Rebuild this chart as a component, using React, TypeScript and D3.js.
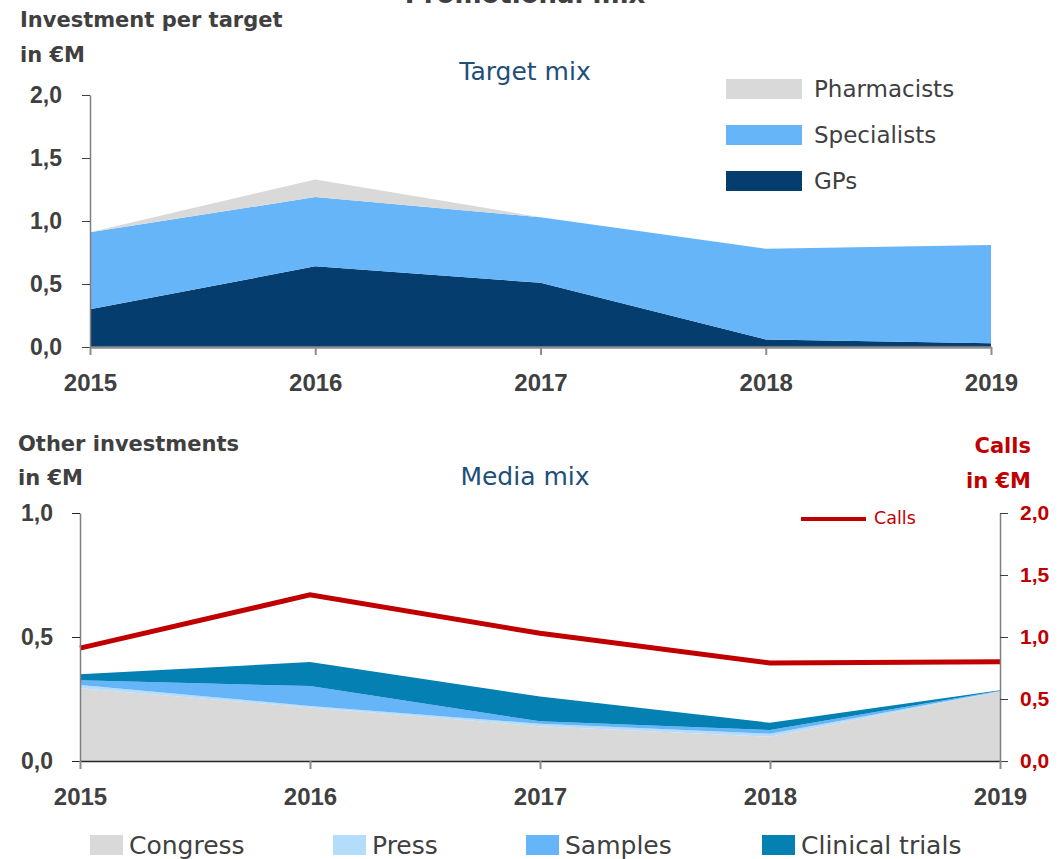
import React, { useEffect, useRef } from 'react';
import * as d3 from 'd3';

const width = 1062;
const height = 859;
const FONT = "'DejaVu Sans', Verdana, sans-serif";
const NUM_FONT = "'Liberation Sans', Arial, sans-serif";
const GREY_TEXT = '#404040';

// x categories
const years = [2015, 2016, 2017, 2018, 2019];

// Target mix – investment per target in €M
const gps = [0.30, 0.64, 0.51, 0.06, 0.03];
const specialists = [0.61, 0.55, 0.52, 0.72, 0.78];
const pharmacists = [0.0, 0.14, 0.0, 0.0, 0.0];

// Media mix – other investments in €M
const congress = [0.293, 0.216, 0.14, 0.098, 0.28];
const press = [0.013, 0.006, 0.01, 0.012, 0.001];
const samples = [0.02, 0.08, 0.01, 0.015, 0.002];
const clinicalTrials = [0.024, 0.097, 0.10, 0.029, 0.002];

// Calls in €M (right axis)
const calls = [0.91, 1.34, 1.03, 0.79, 0.80];

const targetTicks = [0, 0.5, 1, 1.5, 2];
const mediaTicks = [0, 0.5, 1];
const callsTicks = [0, 0.5, 1, 1.5, 2];

const targetKeys = ['GPs', 'Specialists', 'Pharmacists'];
const mediaKeys = ['Congress', 'Press', 'Samples', 'Clinical trials'];

const colors: Record<string, string> = {
  GPs: '#043d6e',
  Specialists: '#66b5f8',
  Pharmacists: '#d9d9d9',
  Congress: '#d9d9d9',
  Press: '#b4ddfb',
  Samples: '#66b5f8',
  'Clinical trials': '#0580b3',
  Calls: '#c00000',
};

const targetRows = years.map((year, i) => ({
  year,
  GPs: gps[i],
  Specialists: specialists[i],
  Pharmacists: pharmacists[i],
}));

const mediaRows = years.map((year, i) => ({
  year,
  Congress: congress[i],
  Press: press[i],
  Samples: samples[i],
  'Clinical trials': clinicalTrials[i],
}));

// plot boxes
const top = { left: 90, right: 991, top: 95, bottom: 347 };
const bot = { left: 80, right: 1000, top: 513, bottom: 761 };

const fmt = (d: number) => d.toFixed(1).replace('.', ',');

const xTop = d3.scalePoint<number>().domain(years).range([top.left, top.right]);
const yTop = d3.scaleLinear().domain([0, 2]).range([top.bottom, top.top]);
const xBot = d3.scalePoint<number>().domain(years).range([bot.left, bot.right]);
const yBot = d3.scaleLinear().domain([0, 1]).range([bot.bottom, bot.top]);
const yCalls = d3.scaleLinear().domain([0, 2]).range([bot.bottom, bot.top]);

function styleAxis(node: any, axis: any, o: any) {
  const g = d3.select(node);
  g.call(axis);
  g.attr('font-family', NUM_FONT).attr('font-size', o.fontSize).attr('font-weight', 'bold');
  g.select('.domain').attr('stroke', o.domain).attr('stroke-width', o.domainWidth);
  g.selectAll('.tick line').attr('stroke', o.tick).attr('stroke-width', o.tickWidth);
  g.selectAll('.tick text').attr('fill', o.text);
}

export default function App() {
  const topY = useRef(null);
  const topX = useRef(null);
  const botY = useRef(null);
  const botX = useRef(null);
  const botR = useRef(null);

  useEffect(() => {
    styleAxis(topY.current,
      d3.axisLeft(yTop).tickValues(targetTicks).tickSize(8).tickSizeOuter(0).tickPadding(20).tickFormat(fmt as any),
      { fontSize: 23, domain: '#7f7f7f', domainWidth: 1.5, tick: '#404040', tickWidth: 1, text: GREY_TEXT });
    styleAxis(topX.current,
      d3.axisBottom(xTop).tickSize(8).tickSizeOuter(0).tickPadding(19),
      { fontSize: 24, domain: '#8c8c8c', domainWidth: 2.5, tick: '#8c8c8c', tickWidth: 2, text: GREY_TEXT });
    styleAxis(botY.current,
      d3.axisLeft(yBot).tickValues(mediaTicks).tickSize(8).tickSizeOuter(0).tickPadding(19).tickFormat(fmt as any),
      { fontSize: 23, domain: '#7f7f7f', domainWidth: 1.5, tick: '#262626', tickWidth: 1, text: GREY_TEXT });
    styleAxis(botX.current,
      d3.axisBottom(xBot).tickSize(8).tickSizeOuter(0).tickPadding(19),
      { fontSize: 24, domain: '#262626', domainWidth: 1.5, tick: '#8c8c8c', tickWidth: 2, text: GREY_TEXT });
    styleAxis(botR.current,
      d3.axisRight(yCalls).tickValues(callsTicks).tickSize(8).tickSizeOuter(0).tickPadding(12).tickFormat(fmt as any),
      { fontSize: 21, domain: '#7f7f7f', domainWidth: 1.5, tick: '#404040', tickWidth: 1, text: colors.Calls });
  }, []);

  const targetStack = d3.stack<any>().keys(targetKeys)(targetRows);
  const mediaStack = d3.stack<any>().keys(mediaKeys)(mediaRows);

  const areaTop = d3.area<any>()
    .x(d => xTop(d.data.year) as number)
    .y0(d => yTop(d[0]))
    .y1(d => yTop(d[1]));

  const areaBot = d3.area<any>()
    .x(d => xBot(d.data.year) as number)
    .y0(d => yBot(d[0]))
    .y1(d => yBot(d[1]));

  const callsLine = d3.line<number>()
    .x((d, i) => xBot(years[i]) as number)
    .y(d => yCalls(d));

  const targetLegend = ['Pharmacists', 'Specialists', 'GPs'];
  const mediaLegendX = [90, 333, 526, 762];

  return (
    <svg width={width} height={height} style={{ position: 'absolute', left: 0, top: 0 }}
      fontFamily={FONT}>
      {/* Titles */}
      <text x={525} y={3} textAnchor="middle" fontSize={26} fontWeight="bold" fill={GREY_TEXT}>Promotional mix</text>
      <text x={20} y={27} fontSize={21} fontWeight="bold" fill={GREY_TEXT}>Investment per target</text>
      <text x={20} y={62} fontSize={21} fontWeight="bold" fill={GREY_TEXT}>in €M</text>
      <text x={525} y={80} textAnchor="middle" fontSize={25} fill="#1f4e79">Target mix</text>

      {/* Target mix areas */}
      {targetStack.map(s => (
        <path key={s.key} d={areaTop(s) as string} fill={colors[s.key]} />
      ))}

      {/* Target legend */}
      {targetLegend.map((k, i) => (
        <g key={k} transform={`translate(726, ${79 + i * 46})`}>
          <rect width={76} height={20} fill={colors[k]} />
          <text x={88} y={18} fontSize={23} fill={GREY_TEXT}>{k}</text>
        </g>
      ))}

      <g ref={topY} transform={`translate(${top.left}, 0)`} />
      <g ref={topX} transform={`translate(0, ${top.bottom})`} />

      {/* Media mix */}
      <text x={18} y={451} fontSize={21} fontWeight="bold" fill={GREY_TEXT}>Other investments</text>
      <text x={18} y={485} fontSize={21} fontWeight="bold" fill={GREY_TEXT}>in €M</text>
      <text x={525} y={485} textAnchor="middle" fontSize={25} fill="#1f4e79">Media mix</text>
      <text x={1031} y={453} textAnchor="end" fontSize={21} fontWeight="bold" fill={colors.Calls}>Calls</text>
      <text x={1031} y={488} textAnchor="end" fontSize={21} fontWeight="bold" fill={colors.Calls}>in €M</text>

      {mediaStack.map(s => (
        <path key={s.key} d={areaBot(s) as string} fill={colors[s.key]} />
      ))}

      <path d={callsLine(calls) as string} fill="none" stroke={colors.Calls} strokeWidth={5} />

      {/* Calls legend */}
      <line x1={801} x2={866} y1={519} y2={519} stroke={colors.Calls} strokeWidth={4} />
      <text x={874} y={524} fontSize={17.5} fill={colors.Calls}>Calls</text>

      <g ref={botY} transform={`translate(${bot.left}, 0)`} />
      <g ref={botR} transform={`translate(${bot.right}, 0)`} />
      <g ref={botX} transform={`translate(0, ${bot.bottom})`} />

      {/* Media legend */}
      {mediaKeys.map((k, i) => (
        <g key={k} transform={`translate(${mediaLegendX[i]}, 835)`}>
          <rect width={33} height={20} fill={colors[k]} />
          <text x={39} y={19} fontSize={25} fill={GREY_TEXT}>{k}</text>
        </g>
      ))}
    </svg>
  );
}
